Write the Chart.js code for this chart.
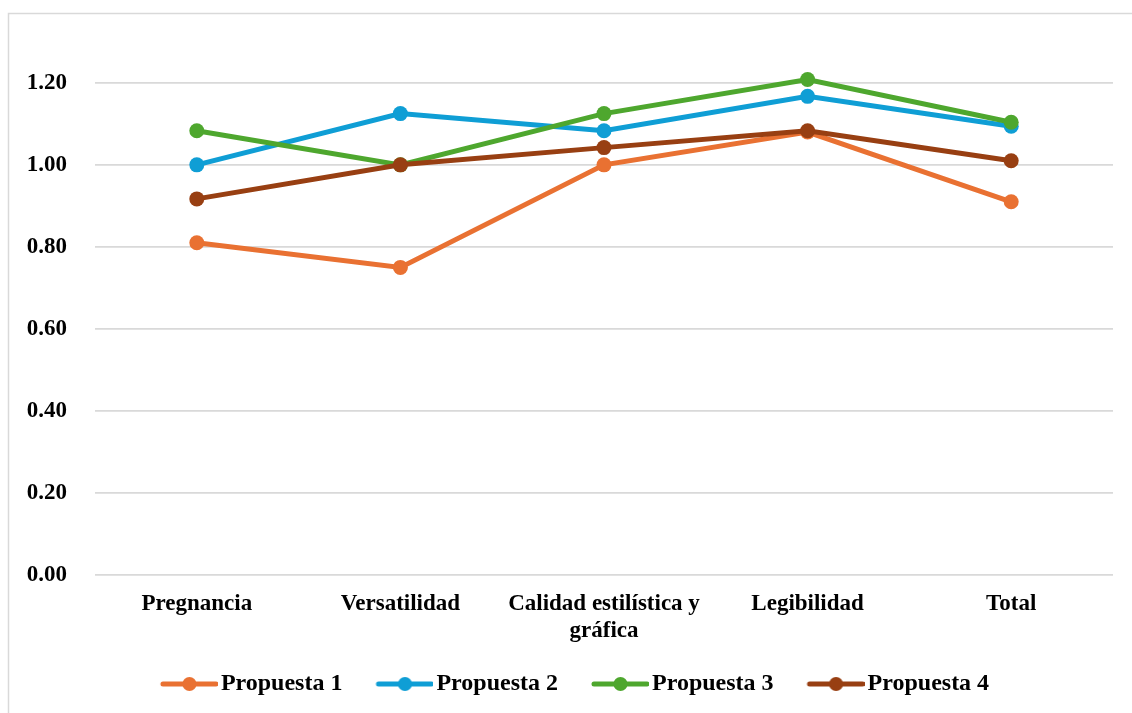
<!DOCTYPE html>
<html>
<head>
<meta charset="utf-8">
<script src="https://cdn.jsdelivr.net/npm/chart.js@4"></script>
<style>
  html, body { margin: 0; padding: 0; background: #fff; }
  #wrap { position: absolute; left: 0; top: 0; width: 1132px; height: 713px; }
</style>
</head>
<body>
<div id="wrap"><canvas id="chart"></canvas></div>
<script>
// data
const categories = ["Pregnancia", "Versatilidad", ["Calidad estilística y", "gráfica"], "Legibilidad", "Total"];
const seriesNames = ["Propuesta 1", "Propuesta 2", "Propuesta 3", "Propuesta 4"];
const propuesta1 = [0.81, 0.75, 1.00, 1.08, 0.91];
const propuesta2 = [1.00, 1.125, 1.083, 1.167, 1.094];
const propuesta3 = [1.083, 1.00, 1.125, 1.208, 1.104];
const propuesta4 = [0.917, 1.00, 1.042, 1.083, 1.01];
const yTicks = [0, 0.2, 0.4, 0.6, 0.8, 1.0, 1.2];
const seriesColors = ["#E97132", "#0F9ED5", "#4EA72E", "#983F12"];

const FONT = "'Liberation Serif', 'Times New Roman', serif";

// legend icon: line with a dot, right-aligned in a wider transparent canvas
// (the empty left part gives the gap between legend items)
function legendIcon(color) {
  const c = document.createElement("canvas");
  c.width = 76; c.height = 16;
  const g = c.getContext("2d");
  g.strokeStyle = color;
  g.lineWidth = 5;
  g.lineCap = "round";
  g.beginPath(); g.moveTo(21, 8); g.lineTo(74, 8); g.stroke();
  g.fillStyle = color;
  g.beginPath(); g.arc(47.5, 8, 7, 0, Math.PI * 2); g.fill();
  return c;
}

// light frame around the chart, cut off at right/bottom like the reference
const framePlugin = {
  id: "frame",
  beforeDraw(chart) {
    const ctx = chart.ctx;
    ctx.save();
    ctx.strokeStyle = "#d9d9d9";
    ctx.lineWidth = 1.5;
    ctx.strokeRect(8.5, 13.5, 1140, 720);
    ctx.restore();
  }
};

const allSeries = [propuesta1, propuesta2, propuesta3, propuesta4];

new Chart(document.getElementById("chart"), {
  type: "line",
  data: {
    labels: categories,
    datasets: allSeries.map((vals, i) => ({
      label: seriesNames[i],
      data: vals,
      borderColor: seriesColors[i],
      backgroundColor: seriesColors[i],
      pointBackgroundColor: seriesColors[i],
      pointBorderColor: seriesColors[i],
      borderWidth: 5,
      pointRadius: 7.5,
      pointBorderWidth: 0,
      tension: 0,
      order: 4 - i,
    })),
  },
  options: {
    responsive: true,
    maintainAspectRatio: false,
    animation: false,
    layout: { padding: { left: 27, right: 19, top: 19, bottom: 7 } },
    scales: {
      x: {
        offset: true,
        grid: { display: false },
        border: { display: false },
        afterFit(scale) { scale.height = 73; },
        ticks: {
          color: "#000",
          font: { family: FONT, size: 23, weight: "bold", lineHeight: 1.2 },
          padding: 7,
          maxRotation: 0,
          autoSkip: false,
        },
      },
      y: {
        min: 0,
        max: 1.30,
        afterBuildTicks(scale) {
          scale.ticks = yTicks.map(v => ({ value: v }));
        },
        afterFit(scale) { scale.width = 68; },
        grid: { color: "#d9d9d9", lineWidth: 1.8, drawTicks: false },
        border: { display: false },
        ticks: {
          color: "#000",
          font: { family: FONT, size: 23, weight: "bold" },
          padding: 28,
          callback: v => Number(v).toFixed(2),
        },
      },
    },
    plugins: {
      tooltip: { enabled: false },
      legend: {
        position: "bottom",
        labels: {
          color: "#000",
          font: { family: FONT, size: 24, weight: "bold" },
          usePointStyle: true,
          pointStyleWidth: 58,
          padding: 24,
          sort: (a, b) => a.datasetIndex - b.datasetIndex,
          generateLabels(chart) {
            const items = Chart.defaults.plugins.legend.labels.generateLabels(chart);
            return items.map(it => {
              it.pointStyle = legendIcon(seriesColors[it.datasetIndex]);
              return it;
            });
          },
        },
      },
    },
  },
  plugins: [framePlugin],
});
</script>
</body>
</html>
